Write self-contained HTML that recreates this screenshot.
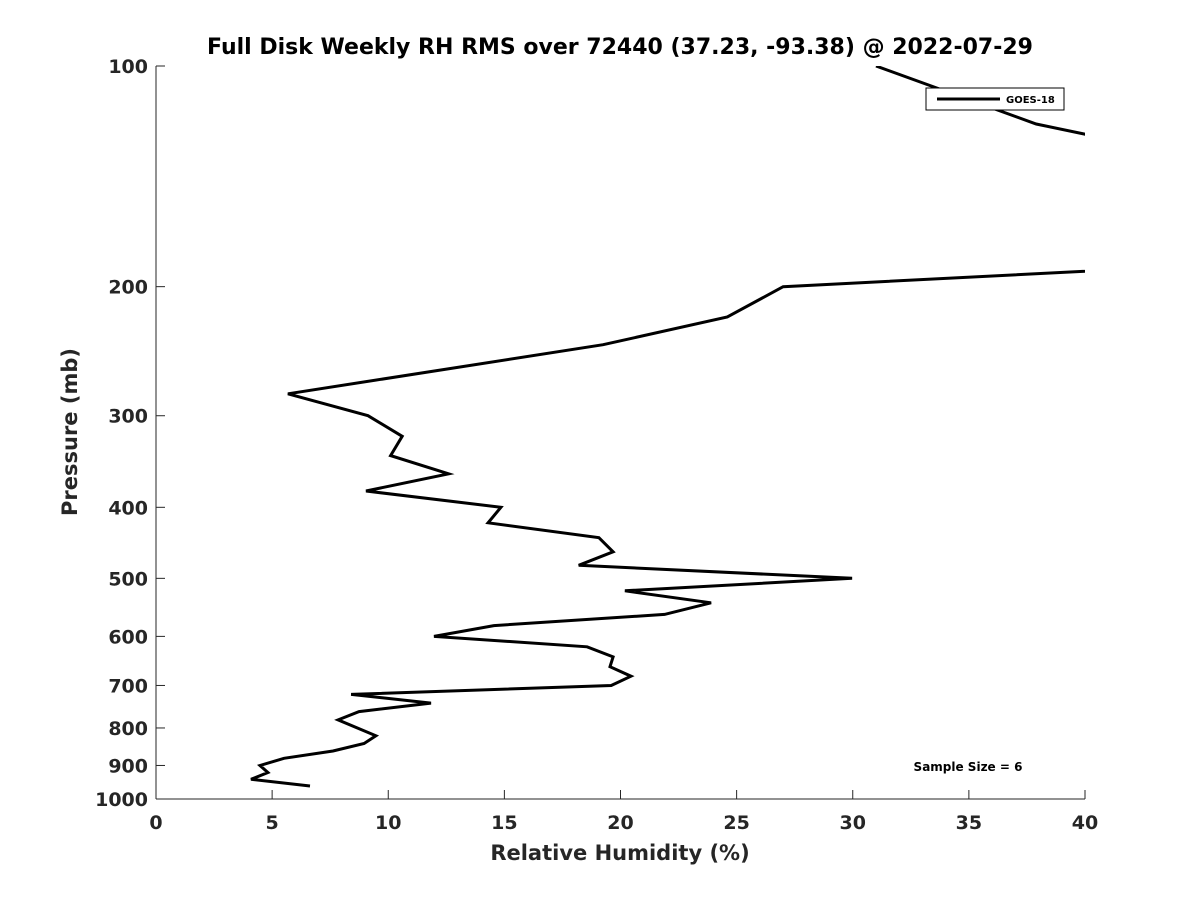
<!DOCTYPE html>
<html><head><meta charset="utf-8"><style>
body{margin:0;background:#fff;}
svg{display:block;font-family:"DejaVu Sans","Liberation Sans",sans-serif;}
</style></head><body>
<svg id="chart" width="1200" height="900">
<text x="620" y="54" text-anchor="middle" font-size="22" font-weight="bold" fill="#000">Full Disk Weekly RH RMS over 72440 (37.23, -93.38) @ 2022-07-29</text>
<defs><clipPath id="plotclip"><rect x="156" y="66" width="929" height="733"/></clipPath></defs>
<g id="axes"></g>
<g id="series" clip-path="url(#plotclip)"></g>
<text x="620" y="860" text-anchor="middle" font-size="21" font-weight="bold" fill="#262626">Relative Humidity (%)</text>
<text transform="translate(77,432) rotate(-90)" text-anchor="middle" font-size="21" font-weight="bold" fill="#262626">Pressure (mb)</text>
<g>
<rect x="926" y="88" width="138" height="22" fill="#fff" stroke="#000" stroke-width="1"/>
<line x1="937" y1="99" x2="1000" y2="99" stroke="#000" stroke-width="3"/>
<text x="1006" y="103" font-size="10" font-weight="bold" fill="#000">GOES-18</text>
</g>
<text x="968" y="771" text-anchor="middle" font-size="12" font-weight="bold" fill="#000">Sample Size = 6</text>
</svg>
<script>
const rhValues=[31,37.9,48,48,27,24.6,19.25,5.68,9.13,10.6,10.1,12.6,9.04,14.85,14.3,19.07,19.68,18.2,29.97,20.19,23.9,21.9,14.55,11.97,18.56,19.68,19.55,20.45,19.6,8.4,11.84,8.74,7.84,9.47,8.96,7.62,5.51,4.48,4.82,4.09,6.63];
const pressures=[100,120,140,185,200,220,240,280,300,320,340,360,380,400,420,440,460,480,500,520,540,560,580,600,620,640,660,680,700,720,740,760,780,820,840,860,880,900,920,940,960];
const xTicks=[0,5,10,15,20,25,30,35,40];
const yTicks=[100,200,300,400,500,600,700,800,900,1000];
const NS="http://www.w3.org/2000/svg";
const X0=156,X1=1085,Y0=66,Y1=799;
function xs(v){return X0+(v-0)/(40-0)*(X1-X0);}
function ys(p){return Y0+(Math.log10(p)-2)*(Y1-Y0);}
const axes=document.getElementById('axes');
function mk(tag,attrs,parent){const e=document.createElementNS(NS,tag);for(const k in attrs)e.setAttribute(k,attrs[k]);parent.appendChild(e);return e;}
const xa=mk('line',{x1:X0,y1:Y1,x2:X1,y2:Y1,stroke:'#262626','stroke-width':1},axes);


const ya=mk('line',{x1:X0,y1:Y0,x2:X0,y2:Y1,stroke:'#262626','stroke-width':1},axes);


xTicks.forEach(t=>{
  const x=xs(t);
  mk('line',{x1:x,y1:Y1,x2:x,y2:Y1-9,stroke:'#262626'},axes);
  const tx=mk('text',{x:x,y:Y1+30,'text-anchor':'middle','font-size':19,'font-weight':'bold',fill:'#262626'},axes);
  tx.textContent=t;
  
  
});
yTicks.forEach(t=>{
  const y=ys(t);
  mk('line',{x1:X0,y1:y,x2:X0+9,y2:y,stroke:'#262626'},axes);
  const tx=mk('text',{x:X0-8,y:y+7,'text-anchor':'end','font-size':19,'font-weight':'bold',fill:'#262626'},axes);
  tx.textContent=t;
  
  
});
const pts=rhValues.map((v,i)=>xs(v).toFixed(1)+','+ys(pressures[i]).toFixed(1)).join(' ');
const line=mk('polyline',{points:pts,fill:'none',stroke:'#000','stroke-width':3,'stroke-linejoin':'miter'},document.getElementById('series'));


</script>
</body></html>
